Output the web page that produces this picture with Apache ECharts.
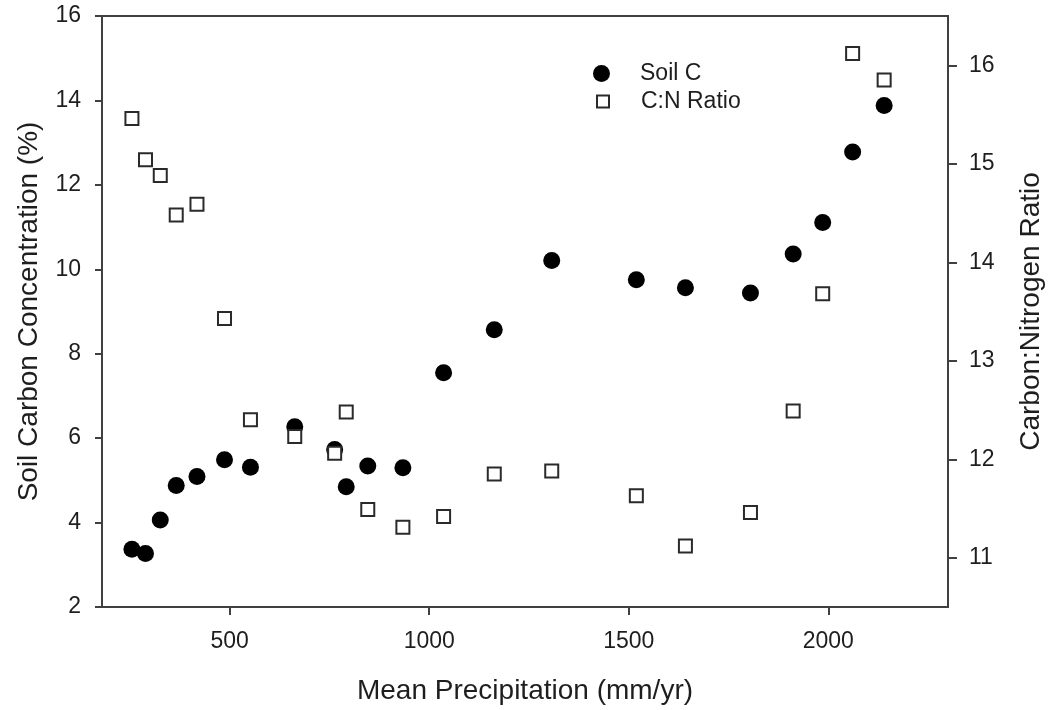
<!DOCTYPE html>
<html>
<head>
<meta charset="utf-8">
<title>Soil carbon vs precipitation</title>
<script src="https://cdn.jsdelivr.net/npm/echarts@6/dist/echarts.min.js"></script>
<style>
  html, body { margin: 0; padding: 0; background: #fff; }
  #chart { width: 1055px; height: 710px; }
</style>
</head>
<body>
<div id="chart"></div>
<script>
  // mean precipitation (mm/yr) of each site
  const precip = [255, 289, 326, 366, 418, 487, 552, 663, 763, 792, 846, 934,
    1036, 1163, 1307, 1519, 1642, 1805, 1912, 1986, 2061, 2140];
  // soil carbon concentration (%)
  const soilC = [3.37, 3.27, 4.06, 4.88, 5.09, 5.49, 5.31, 6.27, 5.73, 4.85, 5.34, 5.30,
    7.55, 8.57, 10.21, 9.75, 9.56, 9.44, 10.36, 11.11, 12.78, 13.88];
  // carbon:nitrogen ratio
  const cnRatio = [15.46, 15.04, 14.88, 14.48, 14.59, 13.43, 12.40, 12.23, 12.06, 12.48, 11.49, 11.31,
    11.42, 11.85, 11.88, 11.63, 11.12, 11.46, 12.49, 13.68, 16.12, 15.85];

  const xTicks = [500, 1000, 1500, 2000];
  const rightTicks = [11, 12, 13, 14, 15, 16];

  const font = "'Liberation Sans', Arial, sans-serif";
  const axisColor = '#404040';
  const textColor = '#1e1e1e';

  const chart = echarts.init(document.getElementById('chart'));

  const legendText = {
    fontFamily: font,
    fontSize: 23,
    color: textColor
  };

  const option = {
    animation: false,
    backgroundColor: '#fff',
    textStyle: { fontFamily: font },
    grid: {
      left: 102,
      right: 107,
      top: 16,
      bottom: 102,
      show: true,
      borderColor: axisColor,
      borderWidth: 2
    },
    legend: [
      {
        orient: 'vertical', left: 593, top: 62, padding: 0, selectedMode: false,
        itemWidth: 17, itemHeight: 17,
        textStyle: Object.assign({ padding: [0, 0, 0, 25] }, legendText),
        data: ['Soil C']
      },
      {
        orient: 'vertical', left: 596, top: 90, padding: 0, selectedMode: false,
        itemWidth: 12, itemHeight: 12,
        textStyle: Object.assign({ padding: [0, 0, 0, 27] }, legendText),
        data: ['C:N Ratio']
      }
    ],
    xAxis: {
      type: 'value',
      min: 180,
      max: 2300,
      name: 'Mean Precipitation (mm/yr)',
      nameLocation: 'middle',
      nameGap: 70,
      nameTextStyle: { fontSize: 28, color: textColor, fontFamily: font },
      axisLine: { show: true, lineStyle: { color: axisColor, width: 2 } },
      axisTick: { show: true, length: 8, customValues: xTicks, lineStyle: { color: axisColor, width: 2 } },
      axisLabel: {
        customValues: xTicks, margin: 23, fontSize: 23, color: textColor, fontFamily: font,
        formatter: function (v) { return String(v); }
      },
      splitLine: { show: false }
    },
    yAxis: [
      {
        type: 'value',
        position: 'left',
        min: 2,
        max: 16,
        interval: 2,
        name: 'Soil Carbon Concentration (%)',
        nameLocation: 'middle',
        nameRotate: 90,
        nameGap: 59,
        nameTextStyle: { fontSize: 28, color: textColor, fontFamily: font },
        axisLine: { show: true, lineStyle: { color: axisColor, width: 2 } },
        axisTick: { show: true, length: 7, lineStyle: { color: axisColor, width: 2 } },
        axisLabel: { margin: 21, fontSize: 23, color: textColor, fontFamily: font },
        splitLine: { show: false }
      },
      {
        type: 'value',
        position: 'right',
        min: 10.5,
        max: 16.5,
        name: 'Carbon:Nitrogen Ratio',
        nameLocation: 'middle',
        nameRotate: 90,
        nameGap: 69,
        nameTextStyle: { fontSize: 28, color: textColor, fontFamily: font },
        axisLine: { show: true, lineStyle: { color: axisColor, width: 2 } },
        axisTick: { show: true, length: 9, customValues: rightTicks, lineStyle: { color: axisColor, width: 2 } },
        axisLabel: { customValues: rightTicks, margin: 21, fontSize: 23, color: textColor, fontFamily: font },
        splitLine: { show: false }
      }
    ],
    series: [
      {
        name: 'Soil C',
        type: 'scatter',
        yAxisIndex: 0,
        symbol: 'circle',
        symbolSize: 17,
        itemStyle: { color: '#000', opacity: 1 },
        data: precip.map((p, i) => [p, soilC[i]])
      },
      {
        name: 'C:N Ratio',
        type: 'scatter',
        yAxisIndex: 1,
        symbol: 'rect',
        symbolSize: 13,
        itemStyle: { color: '#fff', borderColor: '#2a2a2a', borderWidth: 2, opacity: 1 },
        data: precip.map((p, i) => [p, cnRatio[i]])
      }
    ]
  };

  chart.setOption(option);
  window.addEventListener('resize', function () {
    chart.resize();
  });
</script>
</body>
</html>
